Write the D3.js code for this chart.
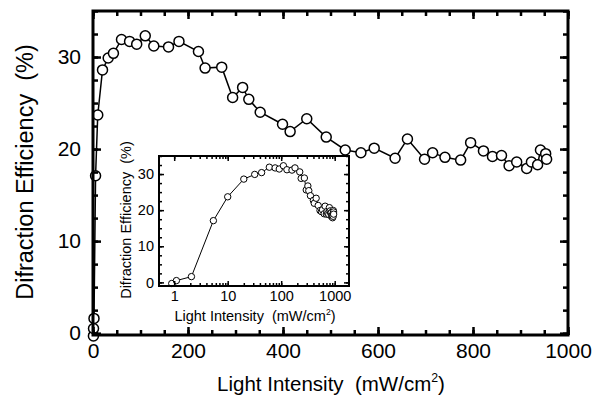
<!DOCTYPE html>
<html>
<head>
<meta charset="utf-8">
<script src="https://cdn.jsdelivr.net/npm/d3@7"></script>
<style>
  body { margin: 0; background: #fff; }
  text { font-family: "Liberation Sans", Arial, Helvetica, sans-serif; fill: #000; white-space: pre; }
</style>
</head>
<body>
<svg id="chart" width="609" height="404"></svg>
<script>
// light intensity (mW/cm2) and diffraction efficiency (%)
const intensity = [0.9, 1.1, 2.1, 5.4, 10, 20, 32, 43, 60, 77, 92, 110, 128, 159, 181,
  222, 236, 271, 294, 315, 328, 352, 399, 415, 450, 491, 531, 564, 592, 636, 662, 698,
  715, 741, 774, 795, 822, 841, 860, 876, 892, 913, 923, 936, 942, 953, 955];
const efficiency = [-0.3, 0.5, 1.6, 17.1, 23.7, 28.6, 29.9, 30.4, 31.9, 31.7, 31.4, 32.3,
  31.2, 31.1, 31.7, 30.6, 28.8, 28.9, 25.6, 26.7, 25.4, 24.0, 22.7, 21.9, 23.3, 21.3, 19.9,
  19.6, 20.1, 19.0, 21.1, 18.9, 19.6, 19.1, 18.8, 20.7, 19.8, 19.2, 19.3, 18.2, 18.6, 17.9,
  18.6, 18.3, 19.9, 19.5, 18.9];

const mainXTicks = [0, 200, 400, 600, 800, 1000];
const mainXMinor = d3.range(0, 1001, 50);
const mainYTicks = [0, 10, 20, 30];
const mainYMinor = d3.range(0, 35.1, 2.5);
const insetXTicks = [1, 10, 100, 1000];
const insetYTicks = [0, 10, 20, 30];
const insetYMinor = d3.range(0, 35.1, 2.5);

const pts = intensity.map((x, i) => ({ x: x, y: efficiency[i] }));
const svg = d3.select("#chart");

function frameAxes(g, x, y, o) {
  const [x0, x1] = x.range(), [y1, y0] = y.range();
  // minor ticks on all four sides, pointing inward
  g.append("g").attr("transform", `translate(0,${y1})`)
    .call(d3.axisBottom(x).tickValues(o.xMinor).tickSizeInner(-o.minor).tickSizeOuter(0).tickFormat(""));
  g.append("g").attr("transform", `translate(0,${y0})`)
    .call(d3.axisTop(x).tickValues(o.xMinor).tickSizeInner(-o.minor).tickSizeOuter(0).tickFormat(""));
  g.append("g").attr("transform", `translate(${x0},0)`)
    .call(d3.axisLeft(y).tickValues(o.yMinor).tickSizeInner(-o.minor).tickSizeOuter(0).tickFormat(""));
  g.append("g").attr("transform", `translate(${x1},0)`)
    .call(d3.axisRight(y).tickValues(o.yMinor).tickSizeInner(-o.minor).tickSizeOuter(0).tickFormat(""));
  // major ticks with labels
  g.append("g").attr("transform", `translate(0,${y1})`)
    .call(d3.axisBottom(x).tickValues(o.xTicks).tickSizeInner(-o.major).tickSizeOuter(0)
      .tickPadding(o.xPad).tickFormat(d3.format("d")));
  g.append("g").attr("transform", `translate(0,${y0})`)
    .call(d3.axisTop(x).tickValues(o.xTicks).tickSizeInner(-o.major).tickSizeOuter(0).tickFormat(""));
  g.append("g").attr("transform", `translate(${x0},0)`)
    .call(d3.axisLeft(y).tickValues(o.yTicks).tickSizeInner(-o.major).tickSizeOuter(0)
      .tickPadding(o.yPad).tickFormat(d3.format("d")));
  g.append("g").attr("transform", `translate(${x1},0)`)
    .call(d3.axisRight(y).tickValues(o.yTicks).tickSizeInner(-o.major).tickSizeOuter(0).tickFormat(""));
  g.selectAll(".domain").remove();
  g.selectAll(".tick line").attr("stroke", "#000").attr("stroke-width", o.tickW);
  g.selectAll(".tick text").attr("font-size", o.font).attr("font-family", null).attr("fill", "#000");
  g.append("rect").attr("x", x0).attr("y", y0).attr("width", x1 - x0).attr("height", y1 - y0)
    .attr("fill", "none").attr("stroke", "#000").attr("stroke-width", o.frameW);
}

function drawSeries(g, x, y, r, lw) {
  const line = d3.line().x(d => x(d.x)).y(d => y(d.y));
  g.append("path").datum(pts).attr("d", line)
    .attr("fill", "none").attr("stroke", "#000").attr("stroke-width", lw);
  g.selectAll("circle").data(pts).enter().append("circle")
    .attr("cx", d => x(d.x)).attr("cy", d => y(d.y)).attr("r", r)
    .attr("fill", "#fff").attr("stroke", "#000").attr("stroke-width", lw);
}

function unitLabel(t, size) {
  t.append("tspan").text("Light Intensity  (mW/cm");
  t.append("tspan").attr("font-size", size * 0.6).attr("dy", -size * 0.42).text("2");
  t.append("tspan").attr("dy", size * 0.42).text(")");
}

// main chart
const x = d3.scaleLinear().domain([0, 1000]).range([93, 568]);
const y = d3.scaleLinear().domain([-0.2, 35]).range([335, 11]);
const main = svg.append("g");
drawSeries(main, x, y, 5, 1.5);
frameAxes(main, x, y, { xTicks: mainXTicks, xMinor: mainXMinor, yTicks: mainYTicks, yMinor: mainYMinor,
  major: 8, minor: 5, xPad: 8, yPad: 12, font: 21, tickW: 2.5, frameW: 3 });
unitLabel(main.append("text").attr("x", 331).attr("y", 391).attr("text-anchor", "middle")
  .attr("font-size", 20.5), 20.5);
main.append("text").attr("transform", "translate(33,172) rotate(-90)").attr("text-anchor", "middle")
  .attr("font-size", 23.5).text("Difraction Efficiency  (%)");

// inset on log scale
const xi = d3.scaleLog().domain([0.52, 1850]).range([159, 349]);
const yi = d3.scaleLinear().domain([-1, 35]).range([286, 156]);
const insetXMinor = [];
for (let dec = 1; dec <= 1000; dec *= 10)
  for (let k = 1; k < 10; k++) if (k * dec < 1850) insetXMinor.push(k * dec);
const inset = svg.append("g");
inset.append("rect").attr("x", 159).attr("y", 156).attr("width", 190).attr("height", 130).attr("fill", "#fff");
drawSeries(inset, xi, yi, 3.2, 1);
frameAxes(inset, xi, yi, { xTicks: insetXTicks, xMinor: insetXMinor, yTicks: insetYTicks, yMinor: insetYMinor,
  major: 5, minor: 3, xPad: 5, yPad: 5, font: 14.5, tickW: 1.5, frameW: 2 });
unitLabel(inset.append("text").attr("x", 255).attr("y", 321).attr("text-anchor", "middle")
  .attr("font-size", 14.5), 14.5);
inset.append("text").attr("transform", "translate(131,220) rotate(-90)").attr("text-anchor", "middle")
  .attr("font-size", 14.5).text("Difraction Efficiency  (%)");
</script>
</body>
</html>
